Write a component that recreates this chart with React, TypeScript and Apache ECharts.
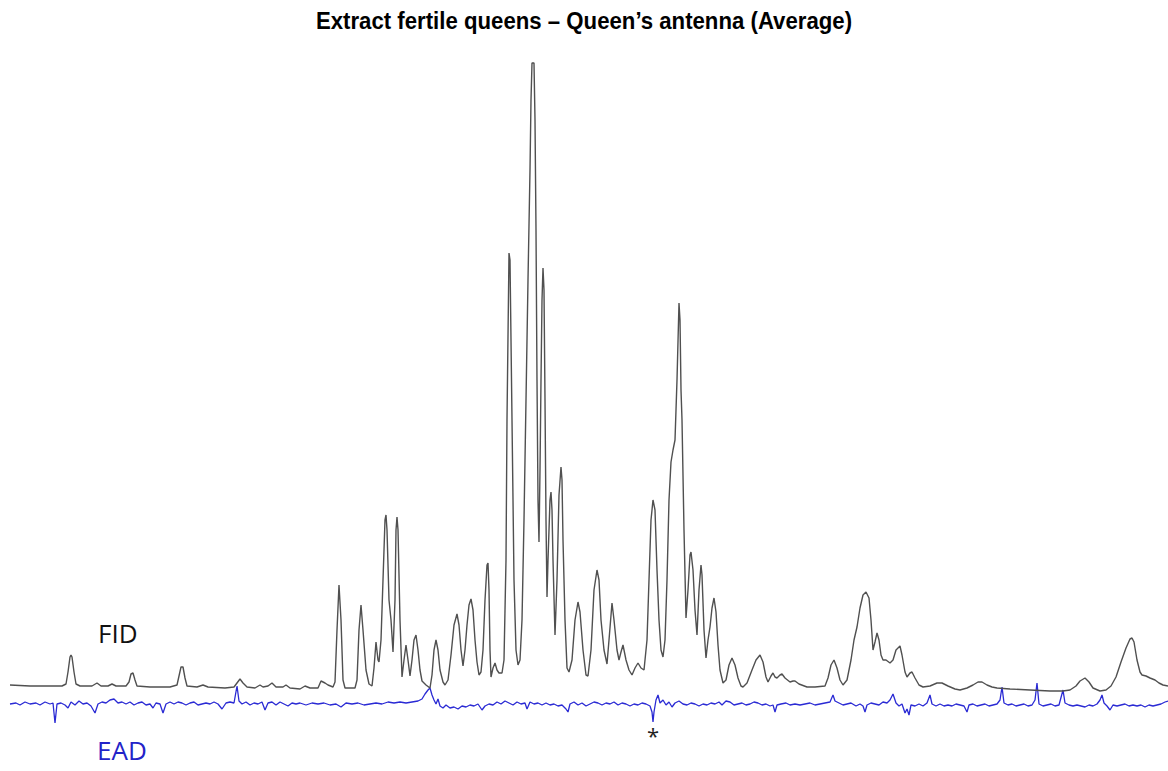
import React, { useEffect, useRef } from "react";
import * as echarts from "echarts";

// Retention position (arbitrary units) and detector response (arbitrary units)
const fidTrace: [number, number][] = [
  [10,15],[30,14],[50,14],[62,14],[66,16],[68,28],[70,43],[71,45],[72,43],[74,28],[76,16],[80,14],[92,14],[97,17],[101,14],[108,14],[112,16],[116,14],[126,14],[129,18],[131,26],[133,27],[135,20],[137,14],[150,13],[170,13],[177,15],[179,24],[181,33],[183,33],[185,22],[187,14],[197,13],[203,15],[208,13],[225,12],[234,13],[237,17],[240,21],[243,17],[247,13],[255,12],[260,15],[263,13],[268,14],[272,17],[276,13],[283,13],[286,15],[290,12],[300,11],[305,14],[310,12],[318,12],[321,19],[325,17],[328,15],[333,13],[335,18],[337,70],[339,115],[341,80],[343,20],[345,12],[355,12],[357,20],[359,70],[361,95],[363,70],[366,30],[369,16],[372,14],[374,32],[376,58],[378,40],[379,38],[381,60],[383,120],[385,180],[386,185],[387,170],[389,100],[391,80],[393,48],[395,100],[396,170],[397,183],[398,170],[400,80],[402,23],[404,40],[406,55],[408,40],[410,24],[412,40],[414,60],[416,65],[418,50],[420,30],[422,19],[426,15],[430,12],[432,25],[434,50],[436,60],[438,50],[440,30],[443,18],[445,15],[448,20],[451,45],[454,75],[457,86],[459,75],[461,50],[463,34],[465,50],[467,75],[469,95],[471,101],[473,90],[475,60],[477,38],[479,25],[481,28],[483,50],[485,100],[487,135],[488,137],[489,110],[490,50],[491,23],[493,32],[495,37],[497,30],[499,27],[502,27],[504,40],[506,140],[507,280],[509,447],[510,440],[512,280],[514,120],[516,50],[518,35],[520,40],[522,80],[524,180],[526,300],[528,420],[530,530],[531,600],[532,637],[534,637],[535,580],[536,470],[537,320],[538,200],[539,158],[540,230],[541,320],[542,400],[543,432],[544,410],[545,300],[546,180],[547,103],[548,140],[550,200],[551,208],[552,190],[553,140],[555,65],[557,120],[559,205],[561,233],[562,220],[563,160],[565,80],[567,32],[569,28],[572,40],[575,80],[578,98],[580,88],[583,50],[586,25],[588,24],[591,50],[594,110],[597,130],[599,120],[601,80],[604,50],[607,36],[609,60],[612,97],[614,80],[617,50],[619,40],[621,48],[623,55],[626,40],[629,30],[632,25],[635,32],[638,37],[641,32],[644,30],[647,60],[649,120],[651,180],[653,200],[655,190],[657,130],[659,80],[661,50],[663,43],[665,60],[667,120],[669,200],[671,238],[673,250],[675,260],[677,320],[679,397],[680,380],[681,310],[682,280],[684,170],[686,82],[688,110],[690,145],[691,148],[693,130],[695,90],[697,65],[699,110],[701,135],[702,125],[704,70],[706,42],[708,60],[710,73],[712,92],[714,102],[716,88],[718,55],[720,30],[723,17],[726,20],[729,35],[732,42],[735,35],[738,22],[741,14],[743,13],[747,17],[752,30],[756,40],[760,45],[763,38],[766,23],[768,18],[771,24],[773,27],[775,23],[777,22],[780,25],[782,26],[785,22],[790,18],[793,19],[795,19],[799,16],[807,13],[815,13],[825,14],[828,22],[831,35],[834,40],[837,32],[840,20],[843,15],[847,20],[851,40],[854,60],[857,73],[860,92],[863,105],[866,108],[869,102],[871,80],[873,50],[875,58],[877,67],[879,60],[881,45],[883,40],[886,40],[890,37],[893,40],[896,50],[900,54],[902,45],[905,28],[907,23],[910,27],[912,28],[915,22],[919,15],[923,13],[930,14],[937,17],[942,17],[948,14],[955,11],[960,10],[967,12],[973,15],[978,18],[982,18],[987,15],[992,13],[997,12],[1010,11],[1030,10],[1050,9],[1063,9],[1070,10],[1076,14],[1080,19],[1085,22],[1089,18],[1093,12],[1100,9],[1106,10],[1111,14],[1116,23],[1121,38],[1126,52],[1130,61],[1132,62],[1134,58],[1137,40],[1140,28],[1142,25],[1146,24],[1150,22],[1155,20],[1159,17],[1163,15],[1168,14]
];

const eadTrace: [number, number][] = [
  [10,6],[16,7],[20,5],[25,8],[30,6],[36,7],[40,5],[45,8],[50,6],[53,7],[55,-13],[57,6],[61,7],[65,5],[68,2],[71,8],[75,5],[79,9],[83,6],[87,7],[91,4],[95,-3],[98,6],[102,8],[106,7],[110,10],[114,11],[118,7],[122,8],[126,6],[130,8],[134,5],[138,7],[142,8],[146,5],[150,6],[153,2],[156,7],[160,6],[163,-3],[166,6],[170,8],[174,6],[178,8],[182,7],[186,5],[190,7],[194,8],[198,5],[202,6],[206,7],[210,6],[214,8],[218,6],[222,1],[226,7],[230,8],[234,7],[237,24],[239,9],[242,6],[246,8],[250,5],[254,7],[258,6],[262,8],[265,0],[268,7],[272,8],[276,5],[280,8],[284,6],[288,4],[292,7],[296,6],[300,7],[306,5],[312,7],[318,6],[324,7],[330,5],[336,6],[341,3],[346,7],[352,6],[358,7],[364,5],[370,6],[376,7],[382,6],[388,8],[394,7],[400,8],[406,7],[412,8],[418,9],[422,11],[425,16],[428,20],[430,22],[432,15],[434,10],[436,6],[438,11],[440,4],[443,2],[446,5],[450,2],[454,3],[458,1],[462,4],[466,3],[470,5],[474,4],[478,6],[482,0],[485,4],[489,6],[493,5],[497,8],[501,6],[505,9],[509,7],[513,5],[517,8],[521,6],[525,7],[527,1],[530,8],[534,6],[538,7],[542,5],[546,7],[550,5],[554,6],[558,4],[562,5],[566,1],[568,-2],[570,6],[574,8],[578,5],[582,7],[586,4],[590,6],[594,8],[598,7],[602,5],[606,7],[610,6],[614,8],[618,5],[622,7],[626,6],[630,4],[634,6],[638,5],[642,7],[646,6],[650,4],[652,-2],[653,-12],[654,-2],[656,10],[658,15],[660,7],[663,10],[666,5],[669,8],[672,3],[675,7],[679,9],[683,6],[687,5],[691,7],[695,6],[699,4],[703,6],[707,5],[711,7],[715,6],[719,8],[722,5],[726,9],[730,8],[734,5],[738,6],[742,7],[746,5],[750,6],[754,8],[758,7],[762,5],[766,6],[770,4],[773,5],[775,-2],[777,5],[781,6],[786,7],[790,5],[795,6],[800,5],[805,6],[810,7],[815,5],[820,6],[825,7],[830,8],[833,15],[835,9],[839,7],[843,5],[847,6],[851,7],[856,4],[860,6],[863,4],[865,-2],[867,5],[871,7],[875,6],[879,5],[883,8],[887,7],[890,10],[893,16],[896,7],[899,4],[902,6],[905,-3],[907,1],[909,-5],[911,5],[915,4],[919,6],[923,4],[927,7],[930,15],[932,6],[936,4],[940,6],[944,4],[948,5],[952,4],[956,6],[960,5],[964,4],[967,-2],[969,5],[973,6],[977,4],[981,5],[985,6],[989,4],[993,5],[997,6],[1000,10],[1002,23],[1004,7],[1008,5],[1012,6],[1016,4],[1020,5],[1024,6],[1028,4],[1032,5],[1035,10],[1037,27],[1039,6],[1043,4],[1047,5],[1051,6],[1055,4],[1059,5],[1063,20],[1065,7],[1069,5],[1073,4],[1077,5],[1081,4],[1085,3],[1089,5],[1093,4],[1097,6],[1100,10],[1102,15],[1104,7],[1107,4],[1110,0],[1113,5],[1117,4],[1121,5],[1125,6],[1129,4],[1133,5],[1137,4],[1141,5],[1145,3],[1149,5],[1153,4],[1157,5],[1161,6],[1165,8],[1168,9]
];

const titleText = "Extract fertile queens \u2013 Queen\u2019s antenna (Average)";
const fidLabel = "FID";
const eadLabel = "EAD";
const activeMark = "*";

export default function App() {
  const ref = useRef<HTMLDivElement>(null);

  useEffect(() => {
    if (!ref.current) return;
    const chart = echarts.init(ref.current, null, { renderer: "svg" });
    chart.setOption({
      animation: false,
      backgroundColor: "#ffffff",
      grid: { left: 0, right: 0, top: 0, bottom: 0 },
      xAxis: { type: "value", min: 0, max: 1168, show: false },
      yAxis: [
        { type: "value", min: -71, max: 700, show: false },
        { type: "value", min: -61, max: 710, show: false },
      ],
      graphic: [
        {
          type: "text",
          x: 584,
          y: 21,
          scaleX: 0.925,
          style: {
            text: titleText,
            fontSize: 24,
            fontWeight: "bold",
            fontFamily: "'Liberation Sans', Arial, sans-serif",
            fill: "#000",
            textAlign: "center",
            textVerticalAlign: "middle",
          },
        },
        {
          type: "text",
          left: 98,
          top: 620,
          style: { text: fidLabel, fontSize: 26, fontFamily: "'Open Sans', 'Noto Sans', sans-serif", fill: "#111" },
        },
        {
          type: "text",
          left: 97,
          top: 737,
          style: { text: eadLabel, fontSize: 26, fontFamily: "'Open Sans', 'Noto Sans', sans-serif", fill: "#2323c8" },
        },
        {
          type: "text",
          left: 647,
          top: 724,
          style: { text: activeMark, fontSize: 22, fontFamily: "'Open Sans', 'Noto Sans', sans-serif", fill: "#222" },
        },
      ],
      series: [
        {
          name: "EAD",
          type: "line",
          yAxisIndex: 1,
          data: eadTrace,
          showSymbol: false,
          lineStyle: { color: "#2a2ad4", width: 1.3 },
          silent: true,
        },
        {
          name: "FID",
          type: "line",
          yAxisIndex: 0,
          data: fidTrace,
          showSymbol: false,
          lineStyle: { color: "#505050", width: 1.4 },
          silent: true,
        },
      ],
    });
    return () => chart.dispose();
  }, []);

  return (
    <div
      ref={ref}
      style={{ position: "absolute", left: 0, top: 0, width: 1168, height: 771 }}
    />
  );
}
